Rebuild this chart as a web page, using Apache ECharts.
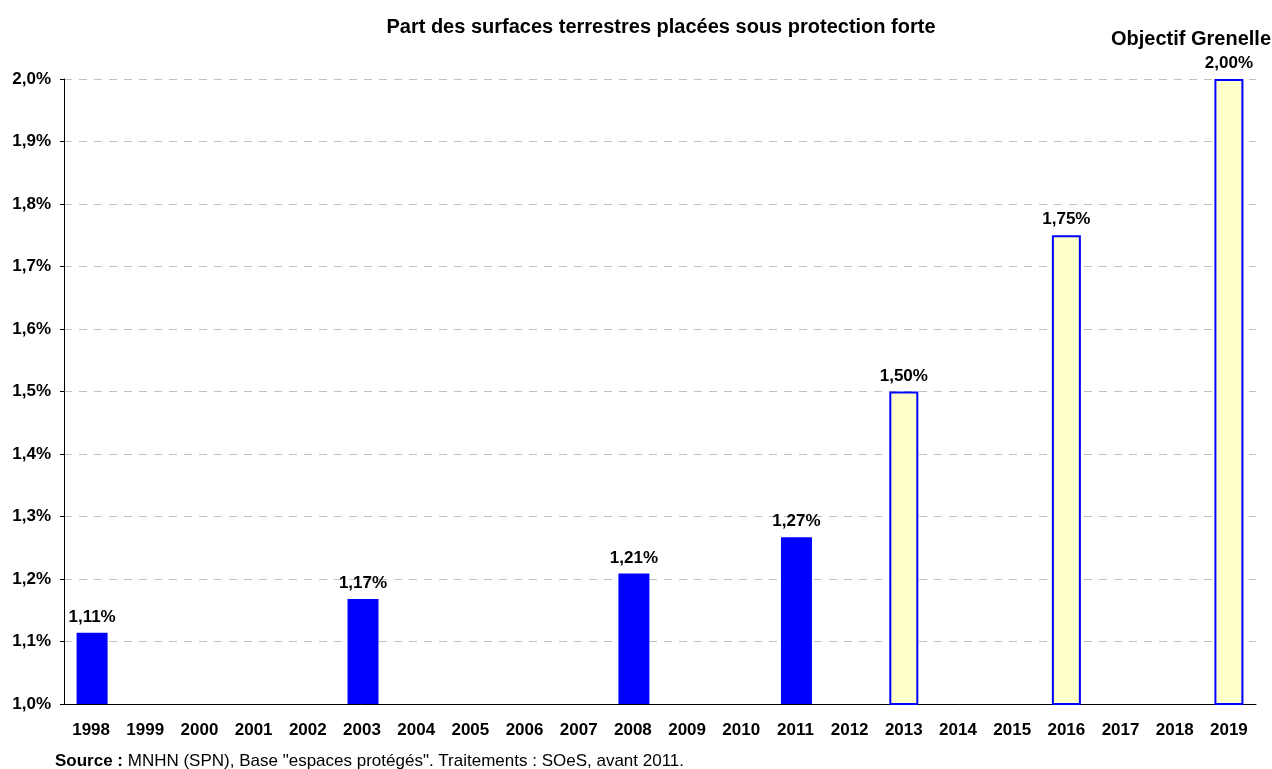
<!DOCTYPE html>
<html>
<head>
<meta charset="utf-8">
<script src="https://cdn.jsdelivr.net/npm/echarts@6/dist/echarts.min.js"></script>
<style>
  html, body { margin: 0; padding: 0; background: #fff; }
  #chart { width: 1272px; height: 769px; }
</style>
</head>
<body>
<div id="chart"></div>
<script>
// années
const years = ['1998', '1999', '2000', '2001', '2002', '2003', '2004', '2005', '2006', '2007', '2008',
  '2009', '2010', '2011', '2012', '2013', '2014', '2015', '2016', '2017', '2018', '2019'];
// valeurs observées (%)
const observed = [1.114, null, null, null, null, 1.168, null, null, null, null, 1.209,
  null, null, 1.267, null, null, null, null, null, null, null, null];
// objectifs (%)
const targets = [null, null, null, null, null, null, null, null, null, null, null,
  null, null, null, null, 1.50, null, null, 1.75, null, null, 2.00];

const fontFamily = '"Liberation Sans", Arial, sans-serif';
const fmtPct = (v, d) => v.toFixed(d).replace('.', ',') + '%';

const chart = echarts.init(document.getElementById('chart'));
chart.setOption({
  animation: false,
  textStyle: { fontFamily: fontFamily },
  title: [
    {
      text: 'Part des surfaces terrestres placées sous protection forte',
      left: 656, top: 12, textAlign: 'center',
      textStyle: { fontSize: 20, fontWeight: 'bold', color: '#000', fontFamily: fontFamily }
    },
    {
      text: 'Objectif Grenelle',
      left: 1266, top: 24, textAlign: 'right',
      textStyle: { fontSize: 20, fontWeight: 'bold', color: '#000', fontFamily: fontFamily }
    },
    {
      text: '{b|Source :} MNHN (SPN), Base "espaces protégés". Traitements : SOeS, avant 2011.',
      left: 50, top: 748,
      textStyle: {
        fontSize: 17, fontWeight: 'normal', color: '#000', fontFamily: fontFamily,
        rich: { b: { fontSize: 17, fontWeight: 'bold', fontFamily: fontFamily } }
      }
    }
  ],
  grid: { left: 64, right: 16, top: 79, bottom: 65 },
  xAxis: {
    type: 'category',
    data: years,
    axisLine: { lineStyle: { color: '#000', width: 1 } },
    axisTick: { lineStyle: { color: '#000' }, length: 5 },
    axisLabel: { color: '#000', fontWeight: 'bold', fontSize: 17, margin: 18, interval: 0 }
  },
  yAxis: {
    type: 'value',
    min: 1, max: 2, interval: 0.1,
    axisLine: { show: true, lineStyle: { color: '#000', width: 1 } },
    axisTick: { show: true, length: 4, lineStyle: { color: '#000' } },
    axisLabel: { color: '#000', fontWeight: 'bold', fontSize: 17, margin: 13, formatter: v => fmtPct(v, 1) },
    splitLine: { lineStyle: { color: '#c0c0c0', type: [8, 7], width: 1 } }
  },
  series: [
    {
      name: 'Observé',
      type: 'bar',
      data: observed,
      barWidth: 31,
      barGap: '-100%',
      itemStyle: { color: '#0000ff' },
      label: {
        show: true, position: 'top', distance: 7,
        color: '#000', fontWeight: 'bold', fontSize: 17,
        formatter: p => fmtPct(p.value, 2)
      }
    },
    {
      name: 'Objectif',
      type: 'bar',
      data: targets,
      barWidth: 29,
      barGap: '-100%',
      itemStyle: { color: '#ffffcc', borderColor: '#0000ff', borderWidth: 2 },
      label: {
        show: true, position: 'top', distance: 7,
        color: '#000', fontWeight: 'bold', fontSize: 17,
        formatter: p => fmtPct(p.value, 2)
      }
    }
  ]
});
</script>
</body>
</html>
